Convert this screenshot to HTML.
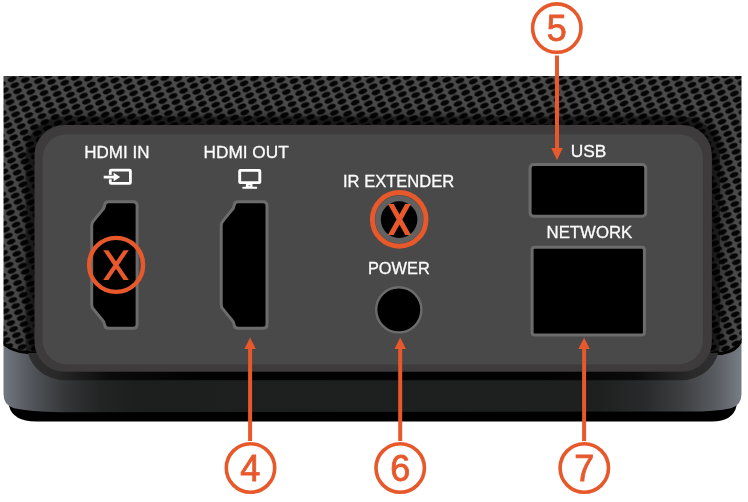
<!DOCTYPE html>
<html><head><meta charset="utf-8"><title>Rear panel</title>
<style>
html,body{margin:0;padding:0;background:#fff;}
body{width:748px;height:502px;overflow:hidden;font-family:"Liberation Sans",sans-serif;}
svg{display:block}
</style></head><body>
<svg width="748" height="502" viewBox="0 0 748 502" font-family="'Liberation Sans', sans-serif">
<defs>
<pattern id="mesh" width="1" height="1" patternUnits="userSpaceOnUse" patternTransform="matrix(13.2,0.9,2.8,6.0,2,3)">
<rect x="-1" y="-1" width="3" height="3" fill="#4a4a4a"/>
<g fill="#050505"><ellipse rx="4.55" ry="2.5" transform="matrix(0.07825,-0.01174,-0.03652,0.17214,-1,-1) rotate(-24)"/><ellipse rx="4.55" ry="2.5" transform="matrix(0.07825,-0.01174,-0.03652,0.17214,-1,0) rotate(-24)"/><ellipse rx="4.55" ry="2.5" transform="matrix(0.07825,-0.01174,-0.03652,0.17214,-1,1) rotate(-24)"/><ellipse rx="4.55" ry="2.5" transform="matrix(0.07825,-0.01174,-0.03652,0.17214,-1,2) rotate(-24)"/><ellipse rx="4.55" ry="2.5" transform="matrix(0.07825,-0.01174,-0.03652,0.17214,0,-1) rotate(-24)"/><ellipse rx="4.55" ry="2.5" transform="matrix(0.07825,-0.01174,-0.03652,0.17214,0,0) rotate(-24)"/><ellipse rx="4.55" ry="2.5" transform="matrix(0.07825,-0.01174,-0.03652,0.17214,0,1) rotate(-24)"/><ellipse rx="4.55" ry="2.5" transform="matrix(0.07825,-0.01174,-0.03652,0.17214,0,2) rotate(-24)"/><ellipse rx="4.55" ry="2.5" transform="matrix(0.07825,-0.01174,-0.03652,0.17214,1,-1) rotate(-24)"/><ellipse rx="4.55" ry="2.5" transform="matrix(0.07825,-0.01174,-0.03652,0.17214,1,0) rotate(-24)"/><ellipse rx="4.55" ry="2.5" transform="matrix(0.07825,-0.01174,-0.03652,0.17214,1,1) rotate(-24)"/><ellipse rx="4.55" ry="2.5" transform="matrix(0.07825,-0.01174,-0.03652,0.17214,1,2) rotate(-24)"/><ellipse rx="4.55" ry="2.5" transform="matrix(0.07825,-0.01174,-0.03652,0.17214,2,-1) rotate(-24)"/><ellipse rx="4.55" ry="2.5" transform="matrix(0.07825,-0.01174,-0.03652,0.17214,2,0) rotate(-24)"/><ellipse rx="4.55" ry="2.5" transform="matrix(0.07825,-0.01174,-0.03652,0.17214,2,1) rotate(-24)"/><ellipse rx="4.55" ry="2.5" transform="matrix(0.07825,-0.01174,-0.03652,0.17214,2,2) rotate(-24)"/></g>
</pattern>
<linearGradient id="base" x1="0" y1="0" x2="1" y2="0">
<stop offset="0" stop-color="#737880"/>
<stop offset="0.04" stop-color="#505358"/>
<stop offset="0.086" stop-color="#333536"/>
<stop offset="0.13" stop-color="#232424"/>
<stop offset="0.177" stop-color="#1d1e1e"/>
<stop offset="0.805" stop-color="#1e1f1f"/>
<stop offset="0.873" stop-color="#2a2b2c"/>
<stop offset="0.919" stop-color="#3d3f41"/>
<stop offset="0.964" stop-color="#585b60"/>
<stop offset="1" stop-color="#787d85"/>
</linearGradient>
<filter id="blur" x="-5%" y="-10%" width="110%" height="120%"><feGaussianBlur stdDeviation="5.5"/></filter>
<linearGradient id="ring" gradientUnits="userSpaceOnUse" x1="26" y1="0" x2="720" y2="0">
<stop offset="0" stop-color="#303030"/>
<stop offset="0.04" stop-color="#2a2a2a"/>
<stop offset="0.12" stop-color="#0c0b0b"/>
<stop offset="0.25" stop-color="#020202"/>
<stop offset="0.75" stop-color="#020202"/>
<stop offset="0.88" stop-color="#0c0b0b"/>
<stop offset="0.96" stop-color="#2a2a2a"/>
<stop offset="1" stop-color="#303030"/>
</linearGradient>
<clipPath id="meshclip"><rect x="0" y="76" width="748" height="277"/></clipPath>
<clipPath id="ringclip"><rect x="0" y="353" width="748" height="40"/></clipPath>
<clipPath id="x1"><rect x="90" y="250.2" width="60" height="29.8"/></clipPath>
<clipPath id="x2"><rect x="370" y="204" width="60" height="31"/></clipPath>
<filter id="blur2" x="-5%" y="-10%" width="110%" height="120%"><feGaussianBlur stdDeviation="0.6"/></filter>
<clipPath id="devclip"><rect x="3.5" y="76" width="738" height="345"/></clipPath>
</defs>
<rect width="748" height="502" fill="#fff"/>
<!-- foot shadow -->
<path d="M9,398 L736.5,398 L736.5,406 Q733,421.4 712,421.4 L36,421.4 Q13,421.4 9,406 Z" fill="#000"/>
<!-- base -->
<path d="M3.5,330 L741.5,330 L741.5,394 Q741.5,405.5 731,408.2 Q715,411.5 690,411.6 L60,412.2 Q30,411.8 14,408.2 Q3.5,405.5 3.5,394 Z" fill="url(#base)"/>
<!-- mesh -->
<path d="M3.5,76 L741.5,76 L741.5,340 Q736,351 722,353.5 L712,353.5 L34,353.5 L34,352.5 L27,352.5 Q12,351 3.5,343.5 Z" fill="url(#mesh)"/>
<!-- mesh bottom shadow -->
<path d="M3.5,341.5 Q12,350 27,351.5 L35,351.5 L35,354 L27,354 Q12,352.5 3.5,345.5 Z" fill="#050505"/>
<path d="M741.5,338 Q736,349.5 722,352 L711,352 L711,355 L722,355 Q737,352.5 741.5,343 Z" fill="#050505"/>
<!-- shadow ring around panel -->
<g clip-path="url(#meshclip)"><rect x="24" y="115" width="698" height="268" rx="36" ry="36" fill="#000" opacity="0.42" filter="url(#blur)"/>
<rect x="25.6" y="116.6" width="694.4" height="264" rx="38" ry="38" fill="#000" opacity="0.42" filter="url(#blur2)"/></g>
<path d="M26.8,340 L719.4,340 L719.4,344 A38,36.3 0 0 1 681.4,380.3 L64.8,380.3 A38,36.3 0 0 1 26.8,344 Z" fill="url(#ring)" clip-path="url(#ringclip)"/>
<!-- medium border -->
<rect x="34.5" y="125" width="677.4" height="246.7" rx="30" ry="30" fill="#3d3b3b"/>
<!-- light panel -->
<rect x="42.6" y="134.2" width="660.3" height="230.2" rx="24" ry="24" fill="#494949"/>

<!-- labels -->
<g fill="#fff" stroke="#fff" stroke-width="0.3" font-size="17" text-anchor="middle" opacity="0.99">
<text x="116.9" y="157.6" textLength="65.2" lengthAdjust="spacingAndGlyphs">HDMI IN</text>
<text x="246.1" y="157.6" textLength="85.2" lengthAdjust="spacingAndGlyphs">HDMI OUT</text>
<text x="398.6" y="186.7" textLength="111.2" lengthAdjust="spacingAndGlyphs">IR EXTENDER</text>
<text x="398.85" y="274.3" textLength="61.8" lengthAdjust="spacingAndGlyphs">POWER</text>
<text x="588.6" y="157.4" textLength="35.6" lengthAdjust="spacingAndGlyphs">USB</text>
<text x="589.4" y="237.7" textLength="85.7" lengthAdjust="spacingAndGlyphs">NETWORK</text>
</g>

<!-- hdmi in icon -->
<rect x="110.3" y="170.1" width="20.1" height="13.3" rx="0.8" fill="none" stroke="#fff" stroke-width="2.8"/>
<path d="M106,177.1 L114,177.1" stroke="#494949" stroke-width="4.4" fill="none"/>
<path d="M103.7,177.1 L115,177.1" stroke="#fff" stroke-width="2.8" fill="none"/>
<path d="M113.6,172.8 L120.2,177.1 L113.6,181.2 Z" fill="#fff"/>
<!-- hdmi out icon -->
<rect x="239.7" y="170.4" width="20.1" height="12.2" rx="0.6" fill="none" stroke="#fff" stroke-width="2.9"/>
<rect x="245.9" y="183.8" width="6.6" height="3.6" fill="#fff"/>
<rect x="248.5" y="185.1" width="1.8" height="1.1" fill="#8a8a8a"/>
<rect x="242.4" y="186.8" width="14.7" height="2" rx="0.6" fill="#fff"/>

<!-- ports -->
<path d="M108.7,201.8 L133.1,201.8 Q137.1,201.8 137.1,205.8 L137.1,324.2 Q137.1,328.2 133.1,328.2 L108.7,328.2 Q105.0,328.2 104.7,325.0 Q104.4,321.7 102.10000000000001,319.59999999999997 L93.7,309.4 Q91.7,307.59999999999997 91.7,304.2 L91.7,225.8 Q91.7,222.4 93.7,220.60000000000002 L102.10000000000001,210.4 Q104.4,208.3 104.7,205.0 Q105.0,201.8 108.7,201.8 Z" fill="#000" stroke="#6c6c6c" stroke-width="3" stroke-linejoin="round"/>
<path d="M238.2,201.8 L263.0,201.8 Q267.0,201.8 267.0,205.8 L267.0,324.2 Q267.0,328.2 263.0,328.2 L238.2,328.2 Q234.5,328.2 234.2,325.0 Q233.89999999999998,321.7 231.6,319.59999999999997 L223.2,309.4 Q221.2,307.59999999999997 221.2,304.2 L221.2,225.8 Q221.2,222.4 223.2,220.60000000000002 L231.6,210.4 Q233.89999999999998,208.3 234.2,205.0 Q234.5,201.8 238.2,201.8 Z" fill="#000" stroke="#6c6c6c" stroke-width="3" stroke-linejoin="round"/>
<!-- IR -->
<circle cx="399.2" cy="219.4" r="24" fill="#616161"/><circle cx="399.1" cy="219.6" r="18.3" fill="#000"/>
<!-- power -->
<circle cx="398.8" cy="309.8" r="22.6" fill="#000" stroke="#6c6c6c" stroke-width="2.4"/>
<!-- usb -->
<rect x="530.1" y="164.5" width="115.6" height="51.8" rx="3.5" fill="#000" stroke="#6c6c6c" stroke-width="3"/>
<!-- network -->
<rect x="532.1" y="247.2" width="112.3" height="87.9" rx="2.5" fill="#000" stroke="#6c6c6c" stroke-width="3"/>

<!-- X marks -->
<g fill="none" stroke="#e7582b">
<circle cx="116.1" cy="264.9" r="27.0" stroke-width="4.4"/>
<circle cx="399.2" cy="219.4" r="26.8" stroke-width="5"/>
<path d="M104.4,248.2 L127.6,282 M127.6,248.2 L104.4,282" stroke-width="4.3" clip-path="url(#x1)"/>
<path d="M389.07,200.8 L409.83,238.1 M409.83,200.8 L389.07,238.1" stroke-width="5" clip-path="url(#x2)"/>
</g>

<!-- callouts -->
<g stroke="#e7582b" stroke-width="4" fill="none">
<path d="M557,55.5 L557,150"/>
<path d="M250.1,347 L250.1,441"/>
<path d="M400.2,347 L400.2,441"/>
<path d="M584.1,347 L584.1,441"/>
</g>
<g fill="#e7582b">
<path d="M551.3,148 L562.7,148 L557,160.2 Z"/>
<path d="M244.4,349 L255.8,349 L250.1,337.4 Z"/>
<path d="M394.5,349 L405.9,349 L400.2,337.4 Z"/>
<path d="M578.4,349 L589.8,349 L584.1,337.4 Z"/>
</g>
<g fill="#fff" stroke="#e7582b" stroke-width="3.6">
<circle cx="556.8" cy="28.1" r="24.2"/>
<circle cx="250.5" cy="468" r="24.2"/>
<circle cx="400.2" cy="468" r="24.2"/>
<circle cx="584.3" cy="468" r="24.2"/>
</g>
<g fill="#e7582b" stroke="#e7582b" stroke-width="0.8" font-size="36" text-anchor="middle" opacity="0.99">
<text x="556.8" y="40.6">5</text>
<text x="250.3" y="481.2">4</text>
<text x="400.2" y="481.2">6</text>
<text x="584.3" y="481.2">7</text>
</g>
</svg>
</body></html>
